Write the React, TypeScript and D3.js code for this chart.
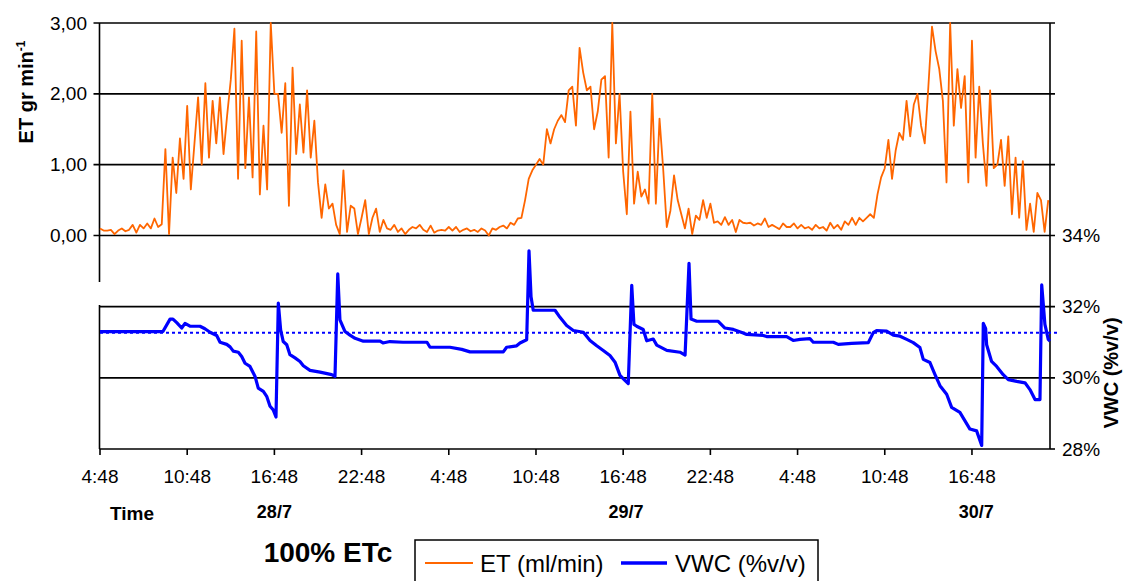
import React from 'react';
import * as d3 from 'd3';

// ---- DATA ----
// ET sampled every 15 minutes, starting 28/7 4:48 (hour 0)
const etStepHours = 0.25;
const etValues: number[] = [
  0.10, 0.07, 0.07, 0.08, 0.02, 0.07, 0.10, 0.06, 0.08, 0.15,
  0.04, 0.15, 0.10, 0.17, 0.10, 0.24, 0.12, 0.16, 1.22, 0.02,
  1.10, 0.60, 1.37, 0.80, 1.83, 0.65, 1.30, 1.95, 1.00, 2.15,
  1.10, 1.90, 1.30, 1.95, 1.15, 1.70, 2.20, 2.92, 0.80, 2.75,
  0.95, 1.95, 0.82, 2.88, 0.58, 1.55, 0.65, 3.00, 2.00, 2.00,
  1.45, 2.15, 0.42, 2.37, 1.15, 1.85, 1.17, 2.05, 1.10, 1.62,
  0.75, 0.25, 0.72, 0.38, 0.45, 0.15, 0.02, 0.92, 0.05, 0.42,
  0.38, 0.02, 0.25, 0.50, 0.02, 0.25, 0.38, 0.05, 0.22, 0.10,
  0.08, 0.15, 0.05, 0.10, 0.02, 0.08, 0.12, 0.10, 0.15, 0.08,
  0.05, 0.14, 0.04, 0.07, 0.08, 0.07, 0.12, 0.07, 0.12, 0.05,
  0.08, 0.10, 0.06, 0.08, 0.05, 0.10, 0.07, 0.00, 0.10, 0.08,
  0.12, 0.14, 0.10, 0.18, 0.15, 0.24, 0.25, 0.50, 0.80, 0.92,
  1.00, 1.08, 1.00, 1.50, 1.30, 1.50, 1.62, 1.70, 1.60, 2.05,
  2.10, 1.55, 2.65, 2.30, 2.05, 2.10, 1.50, 1.75, 2.20, 2.25,
  1.10, 3.00, 1.30, 2.00, 0.90, 0.30, 1.75, 0.45, 0.90, 0.55,
  0.65, 0.45, 2.00, 0.45, 1.65, 0.95, 0.12, 0.35, 0.85, 0.50,
  0.30, 0.10, 0.38, 0.02, 0.28, 0.22, 0.50, 0.25, 0.45, 0.18,
  0.20, 0.15, 0.26, 0.15, 0.22, 0.05, 0.22, 0.18, 0.17, 0.18,
  0.14, 0.17, 0.15, 0.24, 0.12, 0.15, 0.12, 0.09, 0.17, 0.12,
  0.12, 0.17, 0.10, 0.15, 0.10, 0.12, 0.08, 0.15, 0.10, 0.12,
  0.07, 0.18, 0.10, 0.15, 0.08, 0.20, 0.15, 0.25, 0.15, 0.25,
  0.20, 0.25, 0.30, 0.25, 0.58, 0.82, 0.95, 1.35, 0.80, 1.20,
  1.45, 1.35, 1.90, 1.40, 1.85, 2.00, 1.55, 1.30, 2.10, 2.95,
  2.60, 2.35, 1.90, 0.75, 3.00, 1.55, 2.35, 1.80, 2.25, 0.75,
  2.75, 1.10, 2.10, 1.30, 0.70, 2.05, 0.95, 1.00, 1.35, 0.70,
  1.40, 0.30, 1.10, 0.25, 1.05, 0.08, 0.45, 0.05, 0.60, 0.50,
  0.05, 0.50,
];

// VWC (%) at irregular times (hours after 28/7 4:48)
const vwcHours: number[] = [
  0, 4.33, 4.82, 5.02, 5.28, 5.62, 5.85, 6.19, 6.88, 7.22,
  7.57, 8.03, 8.26, 8.72, 8.95, 9.17, 9.52, 9.75, 9.98, 10.32,
  10.67, 10.89, 11.24, 11.47, 11.70, 11.92, 12.11, 12.27, 12.43, 12.61,
  12.85, 13.07, 13.42, 13.76, 13.99, 14.45, 15.14, 15.94, 16.17, 16.36,
  16.51, 16.86, 17.20, 17.55, 18.12, 19.27, 19.47, 19.95, 20.85, 22.50,
  22.71, 24.08, 24.89, 25.46, 27.75, 27.98, 28.67, 28.90, 29.36, 29.52,
  29.66, 29.81, 31.31, 31.65, 32.11, 32.57, 33.26, 33.72, 34.18, 34.63,
  35.09, 35.44, 35.78, 36.12, 36.35, 36.59, 36.74, 36.93, 37.38, 37.62,
  38.07, 38.31, 39.00, 39.91, 40.26, 40.53, 40.67, 41.06, 42.54, 43.00,
  43.58, 44.26, 44.50, 45.64, 45.87, 47.25, 47.70, 48.17, 48.85, 49.08,
  50.46, 50.80, 51.72, 52.87, 53.21, 53.44, 54.13, 54.59, 55.05, 55.51,
  55.96, 56.42, 56.65, 57.11, 57.45, 57.80, 58.26, 58.60, 59.17, 59.52,
  59.86, 60.32, 60.67, 60.78, 60.94, 61.01, 61.35, 61.70, 62.15, 62.50,
  63.08, 63.65, 63.99, 64.34, 64.68, 64.80, 65.02, 65.25, 65.37,
];
const vwcValues: number[] = [
  31.30, 31.30, 31.65, 31.65, 31.55, 31.40, 31.53, 31.45, 31.45, 31.38,
  31.28, 31.19, 31.00, 30.94, 30.87, 30.75, 30.72, 30.60, 30.41, 30.32,
  30.04, 29.71, 29.62, 29.48, 29.20, 29.10, 28.90, 32.10, 31.35, 31.02,
  30.93, 30.65, 30.56, 30.46, 30.34, 30.21, 30.16, 30.09, 30.04, 32.92,
  31.63, 31.30, 31.20, 31.11, 31.03, 31.03, 30.98, 31.02, 31.00, 31.00,
  30.86, 30.86, 30.80, 30.73, 30.73, 30.86, 30.90, 30.98, 31.07, 33.57,
  32.28, 31.90, 31.90, 31.70, 31.47, 31.33, 31.28, 31.05, 30.90, 30.77,
  30.63, 30.44, 30.07, 29.93, 29.84, 32.60, 31.50, 31.45, 31.36, 31.04,
  31.09, 30.92, 30.77, 30.72, 30.64, 33.22, 31.65, 31.59, 31.59, 31.40,
  31.36, 31.26, 31.22, 31.19, 31.16, 31.16, 31.05, 31.08, 31.10, 31.00,
  31.00, 30.94, 30.97, 30.99, 31.27, 31.33, 31.31, 31.20, 31.17, 31.08,
  30.99, 30.85, 30.52, 30.43, 30.10, 29.78, 29.54, 29.17, 29.03, 28.79,
  28.56, 28.51, 28.10, 31.53, 31.39, 30.93, 30.46, 30.32, 30.09, 29.95,
  29.90, 29.86, 29.67, 29.39, 29.39, 32.61, 31.50, 31.08, 31.03,
];
const vwcReference = 31.27;

const etTicks = [0, 1, 2, 3];
const etTickLabels = ['0,00', '1,00', '2,00', '3,00'];
const vwcTicks = [28, 30, 32, 34];
const vwcTickLabels = ['28%', '30%', '32%', '34%'];
const timeTickHours = [0, 6, 12, 18, 24, 30, 36, 42, 48, 54, 60];
const timeTickLabels = ['4:48', '10:48', '16:48', '22:48', '4:48', '10:48', '16:48', '22:48', '4:48', '10:48', '16:48'];
const dateLabels = ['28/7', '29/7', '30/7'];
const dateLabelHours = [12, 36.2, 60.3];
const hourMax = 65.37;

const FONT = "'Liberation Sans', Arial, sans-serif";
const ORANGE = '#ff6600';
const BLUE = '#0000ff';

export default function App() {
  const x = d3.scaleLinear().domain([0, hourMax]).range([100, 1050]);
  const yET = d3.scaleLinear().domain([0, 3]).range([235.5, 23]);
  const yV = d3.scaleLinear().domain([28, 34]).range([449, 235.5]);

  const etLine = d3
    .line<number>()
    .x((_, i) => x(i * etStepHours))
    .y((d) => yET(d));
  const vwcLine = d3
    .line<number>()
    .x((_, i) => x(vwcHours[i]))
    .y((d) => yV(d));

  const left = x(0) - 0.5;
  const right = x(hourMax);
  const bottom = yV(28);

  return (
    <svg
      width={1124}
      height={581}
      style={{ position: 'absolute', left: 0, top: 0, background: '#fff' }}
      fontFamily={FONT}
    >
      <rect x={0} y={0} width={1124} height={581} fill="#fff" />
      {/* ET gridlines */}
      {etTicks.map((t) => (
        <line key={'g' + t} x1={left - 6} x2={right + 5} y1={yET(t)} y2={yET(t)} stroke="#000" strokeWidth={1.6} />
      ))}
      {/* VWC gridlines */}
      {vwcTicks.filter((t) => t !== 34 && t !== 28).map((t) => (
        <line key={'v' + t} x1={left} x2={right + 5} y1={yV(t)} y2={yV(t)} stroke="#000" strokeWidth={1.6} />
      ))}
      <line x1={right} x2={right + 5} y1={yV(28)} y2={yV(28)} stroke="#000" strokeWidth={1.6} />
      {/* axes */}
      <line x1={left} x2={left} y1={yET(3)} y2={282} stroke="#000" strokeWidth={1.6} />
      <line x1={left} x2={left} y1={305} y2={bottom} stroke="#000" strokeWidth={1.6} />
      <line x1={right} x2={right} y1={yET(3)} y2={bottom} stroke="#000" strokeWidth={1.6} />
      <line x1={left} x2={right} y1={bottom} y2={bottom} stroke="#000" strokeWidth={1.6} />
      {timeTickHours.map((h) => (
        <line key={'t' + h} x1={x(h)} x2={x(h)} y1={bottom} y2={bottom + 6} stroke="#000" strokeWidth={1.6} />
      ))}

      {/* reference dotted line */}
      <line x1={x(0)} x2={1058} y1={yV(vwcReference)} y2={yV(vwcReference)} stroke={BLUE} strokeWidth={2} strokeDasharray="3,3" />

      {/* series */}
      <path d={etLine(etValues) || ''} fill="none" stroke={ORANGE} strokeWidth={1.8} strokeLinejoin="round" />
      <path d={vwcLine(vwcValues) || ''} fill="none" stroke={BLUE} strokeWidth={3.2} strokeLinejoin="round" />

      {/* left tick labels */}
      {etTicks.map((t, i) => (
        <text key={'el' + t} x={87} y={yET(t)} dy="0.35em" textAnchor="end" fontSize={19}>
          {etTickLabels[i]}
        </text>
      ))}
      {/* right tick labels */}
      {vwcTicks.map((t, i) => (
        <text key={'vl' + t} x={1062} y={yV(t)} dy="0.35em" textAnchor="start" fontSize={19}>
          {vwcTickLabels[i]}
        </text>
      ))}
      {/* x tick labels */}
      {timeTickHours.map((h, i) => (
        <text key={'xl' + h} x={x(h)} y={483} textAnchor="middle" fontSize={19}>
          {timeTickLabels[i]}
        </text>
      ))}
      {dateLabels.map((d, i) => (
        <text key={d} x={x(dateLabelHours[i])} y={518} textAnchor="middle" fontSize={18} fontWeight="bold">
          {d}
        </text>
      ))}
      <text x={132} y={520} textAnchor="middle" fontSize={19} fontWeight="bold">Time</text>

      {/* axis titles */}
      <text transform="translate(33,92) rotate(-90)" textAnchor="middle" fontSize={20} fontWeight="bold">
        ET gr min<tspan fontSize={12} dy={-8}>-1</tspan>
      </text>
      <text transform="translate(1118,373) rotate(-90)" textAnchor="middle" fontSize={20} fontWeight="bold">
        VWC (%v/v)
      </text>

      {/* title */}
      <text x={328} y={562} textAnchor="middle" fontSize={28} fontWeight="bold">100% ETc</text>

      {/* legend */}
      <rect x={415} y={540} width={403} height={50} fill="#fff" stroke="#000" strokeWidth={1.5} />
      <line x1={425} x2={473} y1={563} y2={563} stroke={ORANGE} strokeWidth={2} />
      <text x={480} y={571.5} fontSize={24}>ET (ml/min)</text>
      <line x1={621} x2={667} y1={563} y2={563} stroke={BLUE} strokeWidth={3.5} />
      <text x={675} y={571.5} fontSize={24}>VWC (%v/v)</text>
    </svg>
  );
}
